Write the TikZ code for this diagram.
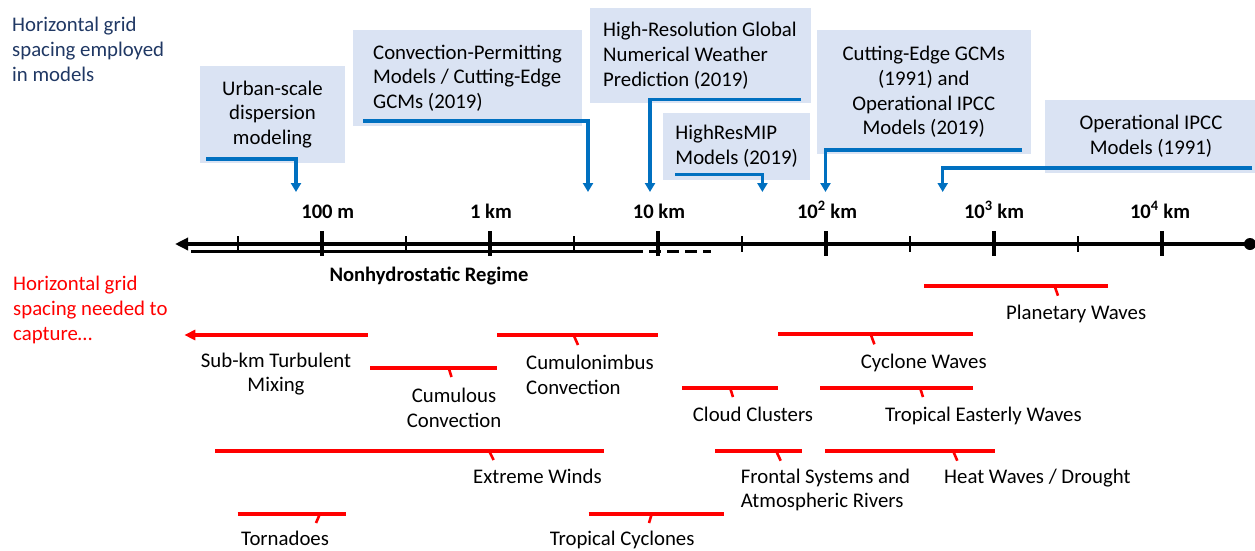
\documentclass[tikz,border=0pt]{standalone}
\usepackage{fontspec}
\setmainfont{Carlito}
\usetikzlibrary{arrows.meta}
\definecolor{navytxt}{RGB}{32,56,100}
\definecolor{boxblue}{RGB}{218,227,243}
\definecolor{lineblue}{RGB}{0,112,192}
\definecolor{redline}{RGB}{255,0,0}
\begin{document}
\begin{tikzpicture}[x=1pt,y=-1pt,
  txt/.style={font=\fontsize{20.8}{24.7}\selectfont, inner sep=0pt},
  boldtxt/.style={font=\fontsize{20.6}{24.7}\selectfont\bfseries, inner sep=0pt},
  mbox/.style={txt, fill=boxblue},
  model/.style={draw=lineblue, line width=3.2pt, -{Triangle[length=9pt,width=10pt]}},
  need/.style={draw=redline, line width=4pt},
  redtick/.style={draw=redline, line width=2.6pt},
  majortick/.style={line width=3.5pt},
  minortick/.style={line width=2pt}
]
\useasboundingbox (0,0) rectangle (1255,550);

% left titles
\node[txt, anchor=west, align=left, text=navytxt] (ttop) at (12,49.5) {Horizontal grid\\spacing employed\\in models};
\node[txt, anchor=west, align=left, text=redline] (tbot) at (13,310) {Horizontal grid\\spacing needed to\\capture\dots};

% model boxes
\node[mbox, align=center, minimum width=145, minimum height=97] (urban) at (272.5,114.5) {Urban-scale\\dispersion\\modeling};
\node[mbox, align=left, minimum width=229, minimum height=96] (conv) at (467.5,78) {Convection-Permitting\\Models / Cutting-Edge\\GCMs (2019)};
\node[mbox, align=left, minimum width=221, minimum height=95] (nwp) at (700,55.7) {High-Resolution Global\\Numerical Weather\\Prediction (2019)};
\node[mbox, align=left, minimum width=147.5, minimum height=67.3] (hrm) at (736.7,146.3) {HighResMIP\\Models (2019)};
\node[mbox, align=center, minimum width=213.6, minimum height=124] (cut) at (923.8,92) {Cutting-Edge GCMs\\(1991) and\\Operational IPCC\\Models (2019)};
\node[mbox, align=center, minimum width=212, minimum height=73] (ipcc) at (1151,136.5) {Operational IPCC\\Models (1991)};

% model connectors
\coordinate (us) at (206,159);   \coordinate (ut) at (296,192);
\coordinate (cs) at (363,121);   \coordinate (ct) at (588,192);
\coordinate (ns) at (801,99.3);  \coordinate (nt) at (650,192);
\coordinate (hs) at (675,174.3); \coordinate (ht) at (762.4,192);
\coordinate (ks) at (1022,150);  \coordinate (kt) at (825.5,192);
\coordinate (is) at (1252,168);  \coordinate (it) at (942.7,192);
\draw[model] (us) -| (ut);
\draw[model] (cs) -| (ct);
\draw[model] (ns) -| (nt);
\draw[model] (hs) -| (ht);
\draw[model] (ks) -| (kt);
\draw[model] (is) -| (it);

% axis
\node[circle, fill=black, minimum size=12pt, inner sep=0pt] (dot) at (1250,244) {};
\coordinate (axl) at (175,244);
\draw[line width=4pt, -{Triangle[length=13pt,width=12pt]}] (dot.center) -- (axl);
\foreach \i in {0,...,5}{
  \draw[majortick] (322+168*\i,231) -- (322+168*\i,256);
  \draw[minortick] (238+168*\i,236) -- (238+168*\i,252);
}
\node[boldtxt, anchor=base] (l100m) at (327.7,218.5) {100 m};
\node[boldtxt, anchor=base] (l1km) at (491,218.5) {1 km};
\node[boldtxt, anchor=base] (l10km) at (659,218.5) {10 km};
\node[boldtxt, anchor=base] (l2) at (827,218.5) {10\textsuperscript{2} km};
\node[boldtxt, anchor=base] (l3) at (994,218.5) {10\textsuperscript{3} km};
\node[boldtxt, anchor=base] (l4) at (1160,218.5) {10\textsuperscript{4} km};

% nonhydrostatic regime
\coordinate (nhl) at (191,251.7); \coordinate (nhm) at (631,251.7); \coordinate (nhr) at (711,251.7);
\draw[line width=3.5pt] (nhl) -- (nhm);
\draw[line width=3.5pt, dash pattern=on 12pt off 6pt] (nhm) -- (nhr);
\node[boldtxt, anchor=base] (nh) at (429,281.5) {Nonhydrostatic Regime};

% needed ranges
\draw[need] (924,285.7) -- (1107.5,285.7);
\draw[redtick] (1054.5,285.7) -- (1058,295.7);
\node[txt, anchor=base west] (pw) at (1006,319) {Planetary Waves};

\draw[need] (778,334.3) -- (972.6,334.3);
\draw[redtick] (870.7,334.3) -- (874.4,344.3);
\node[txt, anchor=base west] (cw) at (860.6,368) {Cyclone Waves};

\draw[need, -{Triangle[length=11pt,width=10pt]}] (367.5,335) -- (184.3,335);
\node[txt, align=center] (sub) at (276,374) {Sub-km Turbulent\\Mixing};

\draw[need] (497,335) -- (657.5,335);
\draw[redtick] (573.6,335) -- (578,345);
\node[txt, anchor=west, align=left] (cb) at (526,375) {Cumulonimbus\\Convection};

\draw[need] (370,367.7) -- (497,367.7);
\draw[redtick] (448.6,367.7) -- (451.5,377);
\node[txt, align=center] (cu) at (454,407.5) {Cumulous\\Convection};

\draw[need] (682,387.7) -- (778,387.7);
\draw[redtick] (730,387.7) -- (733,397);
\node[txt, anchor=base west] (cc) at (692.7,421.5) {Cloud Clusters};

\draw[need] (820,387.7) -- (972.6,387.7);
\draw[redtick] (920,387.7) -- (923,397);
\node[txt, anchor=base west] (te) at (885,421.5) {Tropical Easterly Waves};

\draw[need] (215,450.7) -- (603.6,450.7);
\draw[redtick] (489,450.7) -- (493.6,460);
\node[txt, anchor=base west] (ew) at (473,483.5) {Extreme Winds};

\draw[need] (715,450.7) -- (802,450.7);
\draw[redtick] (776,450.7) -- (780.7,460.7);
\node[txt, anchor=west, align=left] (fs) at (740.7,490) {Frontal Systems and\\Atmospheric Rivers};

\draw[need] (825,450.7) -- (994.5,450.7);
\draw[redtick] (953,450.7) -- (957.3,460.7);
\node[txt, anchor=base west] (hw) at (944,483.5) {Heat Waves / Drought};

\draw[need] (237.5,513.7) -- (346,513.7);
\draw[redtick] (320,513.7) -- (316,523);
\node[txt, anchor=base west] (to) at (241,545) {Tornadoes};

\draw[need] (588.6,513.7) -- (724,513.7);
\draw[redtick] (651.8,513.7) -- (649,523);
\node[txt, anchor=base west] (tc) at (549.6,545) {Tropical Cyclones};
\end{tikzpicture}
\end{document}
